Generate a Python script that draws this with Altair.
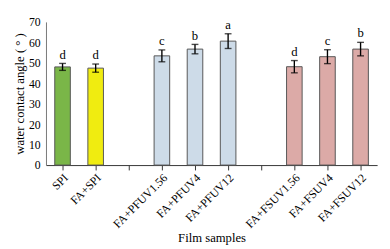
import altair as alt
import pandas as pd

samples = ["SPI", "FA+SPI", " ", "FA+PFUV1.56", "FA+PFUV4", "FA+PFUV12",
           "  ", "FA+FSUV1.56", "FA+FSUV4", "FA+FSUV12"]
bar_samples = ["SPI", "FA+SPI", "FA+PFUV1.56", "FA+PFUV4", "FA+PFUV12",
               "FA+FSUV1.56", "FA+FSUV4", "FA+FSUV12"]
angles = [48.0, 47.4, 53.4, 56.7, 60.6, 48.1, 53.0, 56.7]
errors = [1.7, 2.0, 2.9, 2.3, 3.6, 3.0, 3.4, 3.3]
letters = ["d", "d", "c", "b", "a", "d", "c", "b"]
groups = ["g", "y", "b", "b", "b", "p", "p", "p"]
group_names = ["g", "y", "b", "p"]
group_colors = ["#7ab648", "#f0ec10", "#cddbe8", "#dcaaa7"]

df = pd.DataFrame({"sample": bar_samples, "angle": angles, "err": errors,
                   "letter": letters, "grp": groups})
df["lo"] = df["angle"] - df["err"]
df["hi"] = df["angle"] + df["err"]

FONT = "Liberation Serif"

x = alt.X("sample:N", sort=samples,
          scale=alt.Scale(domain=samples, paddingInner=0, paddingOuter=0),
          axis=alt.Axis(title="Film samples", labelAngle=-45,
                        domainColor="#333", tickColor="#333", tickSize=5,
                        labelFont=FONT, labelFontSize=12, labelColor="black",
                        titleFont=FONT, titleFontSize=13, titleFontWeight="normal",
                        titleColor="black", titlePadding=2, labelPadding=2))
y = alt.Y("angle:Q", scale=alt.Scale(domain=[0, 70], nice=False),
          axis=alt.Axis(title="water contact angle ( ° )", tickCount=7,
                        ticks=False, grid=False, domainColor="#777",
                        labelFont=FONT, labelFontSize=12, labelColor="black",
                        labelPadding=6, titleFont=FONT, titleFontSize=13,
                        titleFontWeight="normal", titleColor="black",
                        titlePadding=2))

base = alt.Chart(df)
bars = base.mark_bar(size=16, stroke="#555", strokeWidth=1).encode(
    x=x, y=y,
    color=alt.Color("grp:N", scale=alt.Scale(domain=group_names, range=group_colors),
                    legend=None))

rule = base.mark_rule(color="black", strokeWidth=1.4).encode(
    x=x, y="lo:Q", y2="hi:Q")
cap_lo = base.mark_tick(color="black", size=7, thickness=1.4).encode(x=x, y="lo:Q")
cap_hi = base.mark_tick(color="black", size=7, thickness=1.4).encode(x=x, y="hi:Q")
text = base.mark_text(font=FONT, fontSize=13, baseline="bottom", dy=-2,
                      color="black").encode(x=x, y="hi:Q", text="letter:N")

chart = alt.layer(bars, rule, cap_lo, cap_hi, text).properties(
    width=340, height=147,
).configure_view(stroke=None)

chart.save("out.html", embed_options={"renderer": "svg", "actions": False})
